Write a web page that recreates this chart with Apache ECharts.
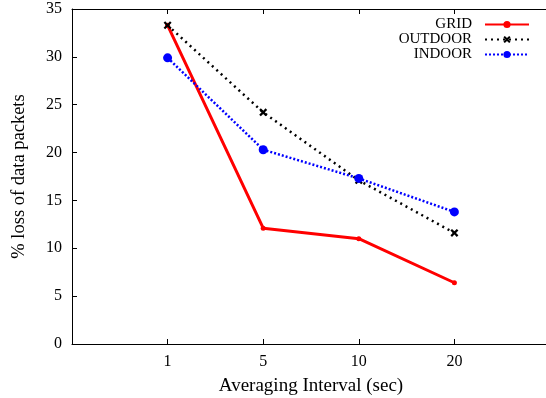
<!DOCTYPE html>
<html>
<head>
<meta charset="utf-8">
<script src="https://cdn.jsdelivr.net/npm/echarts@6/dist/echarts.min.js"></script>
<style>
  html, body { margin: 0; padding: 0; background: #fff; }
  #chart { width: 546px; height: 398px; }
</style>
</head>
<body>
<div id="chart"></div>
<script>
const categories = ['1', '5', '10', '20'];
const gridLoss = [33.3, 12.1, 11.0, 6.4];
const outdoorLoss = [33.3, 24.2, 17.1, 11.6];
const indoorLoss = [29.9, 20.3, 17.3, 13.8];
const yTicks = [0, 5, 10, 15, 20, 25, 30, 35];

const font = 'Liberation Serif, Times New Roman, serif';
const xShape = 'path://M0,2 L2,0 L5,3 L8,0 L10,2 L7,5 L10,8 L8,10 L5,7 L2,10 L0,8 L3,5 Z';

// categories sit at positions 1..4 of a 0..5 axis
function toPoints(vals) {
  return vals.map((v, i) => [i + 1, v]);
}

const chart = echarts.init(document.getElementById('chart'));
chart.setOption({
  animation: false,
  textStyle: { fontFamily: font },
  grid: { left: 72, top: 9, width: 478, height: 335, outerBoundsMode: 'none', containLabel: false },
  legend: {
    orient: 'vertical',
    right: 11,
    top: 12,
    align: 'right',
    itemWidth: 44,
    itemHeight: 9,
    itemGap: 0,
    textStyle: { fontFamily: font, fontSize: 15, color: '#000', padding: [0, 8, 0, 0] },
    data: ['GRID', 'OUTDOOR', 'INDOOR']
  },
  xAxis: [{
    type: 'value',
    min: 0,
    max: 5,
    interval: 1,
    name: 'Averaging Interval (sec)',
    nameLocation: 'middle',
    nameGap: 33,
    nameTextStyle: { fontFamily: font, fontSize: 19, color: '#000' },
    axisLine: { lineStyle: { color: '#000', width: 1 } },
    axisTick: { inside: true, length: 5, lineStyle: { color: '#000' } },
    axisLabel: {
      fontFamily: font, fontSize: 16, color: '#000', margin: 10,
      formatter: v => (v >= 1 && v <= categories.length) ? categories[v - 1] : ''
    },
    splitLine: { show: false }
  }, {
    type: 'value',
    position: 'top',
    min: 0,
    max: 5,
    interval: 1,
    axisLine: { lineStyle: { color: '#000', width: 1 } },
    axisTick: { inside: true, length: 5, lineStyle: { color: '#000' } },
    axisLabel: { show: false },
    splitLine: { show: false }
  }],
  yAxis: {
    type: 'value',
    min: yTicks[0],
    max: yTicks[yTicks.length - 1],
    interval: 5,
    name: '% loss of data packets',
    nameLocation: 'middle',
    nameGap: 43,
    nameTextStyle: { fontFamily: font, fontSize: 18.5, color: '#000' },
    axisLine: { show: true, lineStyle: { color: '#000', width: 1 } },
    axisTick: { show: true, inside: true, length: 5, lineStyle: { color: '#000' } },
    axisLabel: { fontFamily: font, fontSize: 16, color: '#000', margin: 10 },
    splitLine: { show: false }
  },
  series: [{
    name: 'GRID',
    type: 'line',
    data: toPoints(gridLoss),
    symbol: 'circle',
    symbolSize: 5,
    itemStyle: { color: '#ff0000' },
    lineStyle: { color: '#ff0000', width: 3 }
  }, {
    name: 'OUTDOOR',
    type: 'line',
    data: toPoints(outdoorLoss),
    symbol: xShape,
    symbolSize: 8,
    itemStyle: { color: '#000' },
    lineStyle: { color: '#000', width: 2.5, type: [2, 4] }
  }, {
    name: 'INDOOR',
    type: 'line',
    data: toPoints(indoorLoss),
    symbol: 'circle',
    symbolSize: 9,
    itemStyle: { color: '#0000ff' },
    lineStyle: { color: '#0000ff', width: 2.5, type: [2, 2] }
  }]
});
</script>
</body>
</html>
